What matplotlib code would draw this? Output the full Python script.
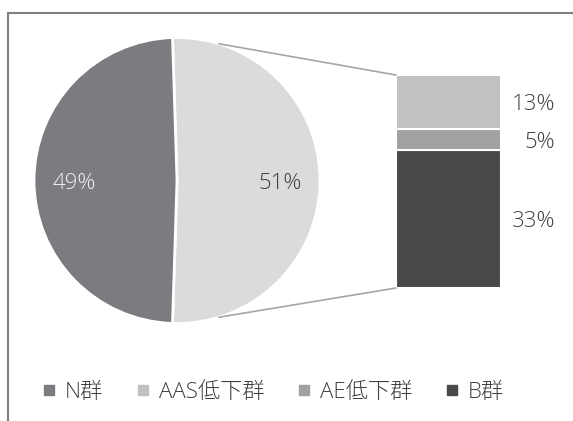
import numpy as np
import matplotlib.pyplot as plt
from matplotlib.patches import ConnectionPatch
from matplotlib.lines import Line2D

plt.rcParams['font.family'] = ['Open Sans', 'Noto Sans CJK JP', 'DejaVu Sans']
plt.rcParams['font.weight'] = 'light'

# data
pie_labels = ['N群', 'その他']
pie_vals = [49, 51]
bar_labels = ['AAS低下群', 'AE低下群', 'B群']
bar_vals = [13, 5, 33]
legend_labels = ['N群', 'AAS低下群', 'AE低下群', 'B群']

pie_colors = ['#7b7c80', '#dadbdd']
bar_colors = ['#c0c1c3', '#a0a1a3', '#48494b']
legend_colors = ['#7b7c80', '#c0c1c3', '#a0a1a3', '#48494b']
txt = '#404040'

W, H = 573, 421
fig = plt.figure(figsize=(W / 100, H / 100), dpi=100)

def px_axes(x0, y0, x1, y1):
    # pixel box (top-left origin) -> figure axes
    return fig.add_axes([x0 / W, 1 - y1 / H, (x1 - x0) / W, (y1 - y0) / H])

# outer frame (only left and top visible)
fig.add_artist(Line2D([8 / W, 8 / W], [0, 1 - 13 / H], color='#7f7f7f', lw=1.5))
fig.add_artist(Line2D([8 / W, 1], [1 - 13 / H, 1 - 13 / H], color='#7f7f7f', lw=1.5))

# pie
cx, cy, half = 177, 180.5, 150
ax1 = px_axes(cx - half, cy - half, cx + half, cy + half)
R = 143 / half
other_frac = pie_vals[1] / sum(pie_vals)
start = -other_frac * 180
wedges, _ = ax1.pie(pie_vals[::-1], colors=pie_colors[::-1], startangle=start,
                    counterclock=True, radius=R,
                    wedgeprops=dict(edgecolor='white', linewidth=2))
ax1.set_xlim(-1, 1)
ax1.set_ylim(-1, 1)
ax1.set_aspect('equal')
ax1.axis('off')

ax1.text(-0.72 * R, -0.02, f'{pie_vals[0]}%', color='#f2f2f2', fontsize=16,
         ha='center', va='center')
ax1.text(0.72 * R, -0.02, f'{pie_vals[1]}%', color=txt, fontsize=16,
         ha='center', va='center')

# bar of pie
ax2 = px_axes(396, 75, 501, 288)
bottom = 0
stack = list(zip(bar_vals, bar_colors))[::-1]
cum = []
for v, c in stack:
    ax2.bar(0, v, bottom=bottom, width=1, color=c, edgecolor='white', linewidth=1.5)
    cum.append(bottom + v / 2)
    bottom += v
ax2.set_xlim(-0.5, 0.5)
ax2.set_ylim(0, sum(bar_vals))
ax2.axis('off')
for (v, c), y in zip(stack, cum):
    ax2.text(1.02, y - 0.6, f'{v}%', color=txt, fontsize=16, ha='right', va='center')

# connector lines
ang = np.deg2rad(73)
for sgn, yb in [(1, 1), (-1, 0)]:
    con = ConnectionPatch(xyA=(R * np.cos(ang), sgn * R * np.sin(ang)), coordsA=ax1.transData,
                          xyB=(0, yb), coordsB=ax2.transAxes,
                          color='#a6a6a6', lw=1.2)
    fig.add_artist(con)

# legend
handles = [Line2D([], [], marker='s', ls='', color=c, markersize=7) for c in legend_colors]
fig.legend(handles, legend_labels, loc='center', bbox_to_anchor=(271 / W, 1 - 392 / H),
           ncol=4, frameon=False, fontsize=16, labelcolor=txt, handletextpad=0.2,
           columnspacing=1.3, handlelength=1.0)

fig.savefig('out.png', dpi=100)
